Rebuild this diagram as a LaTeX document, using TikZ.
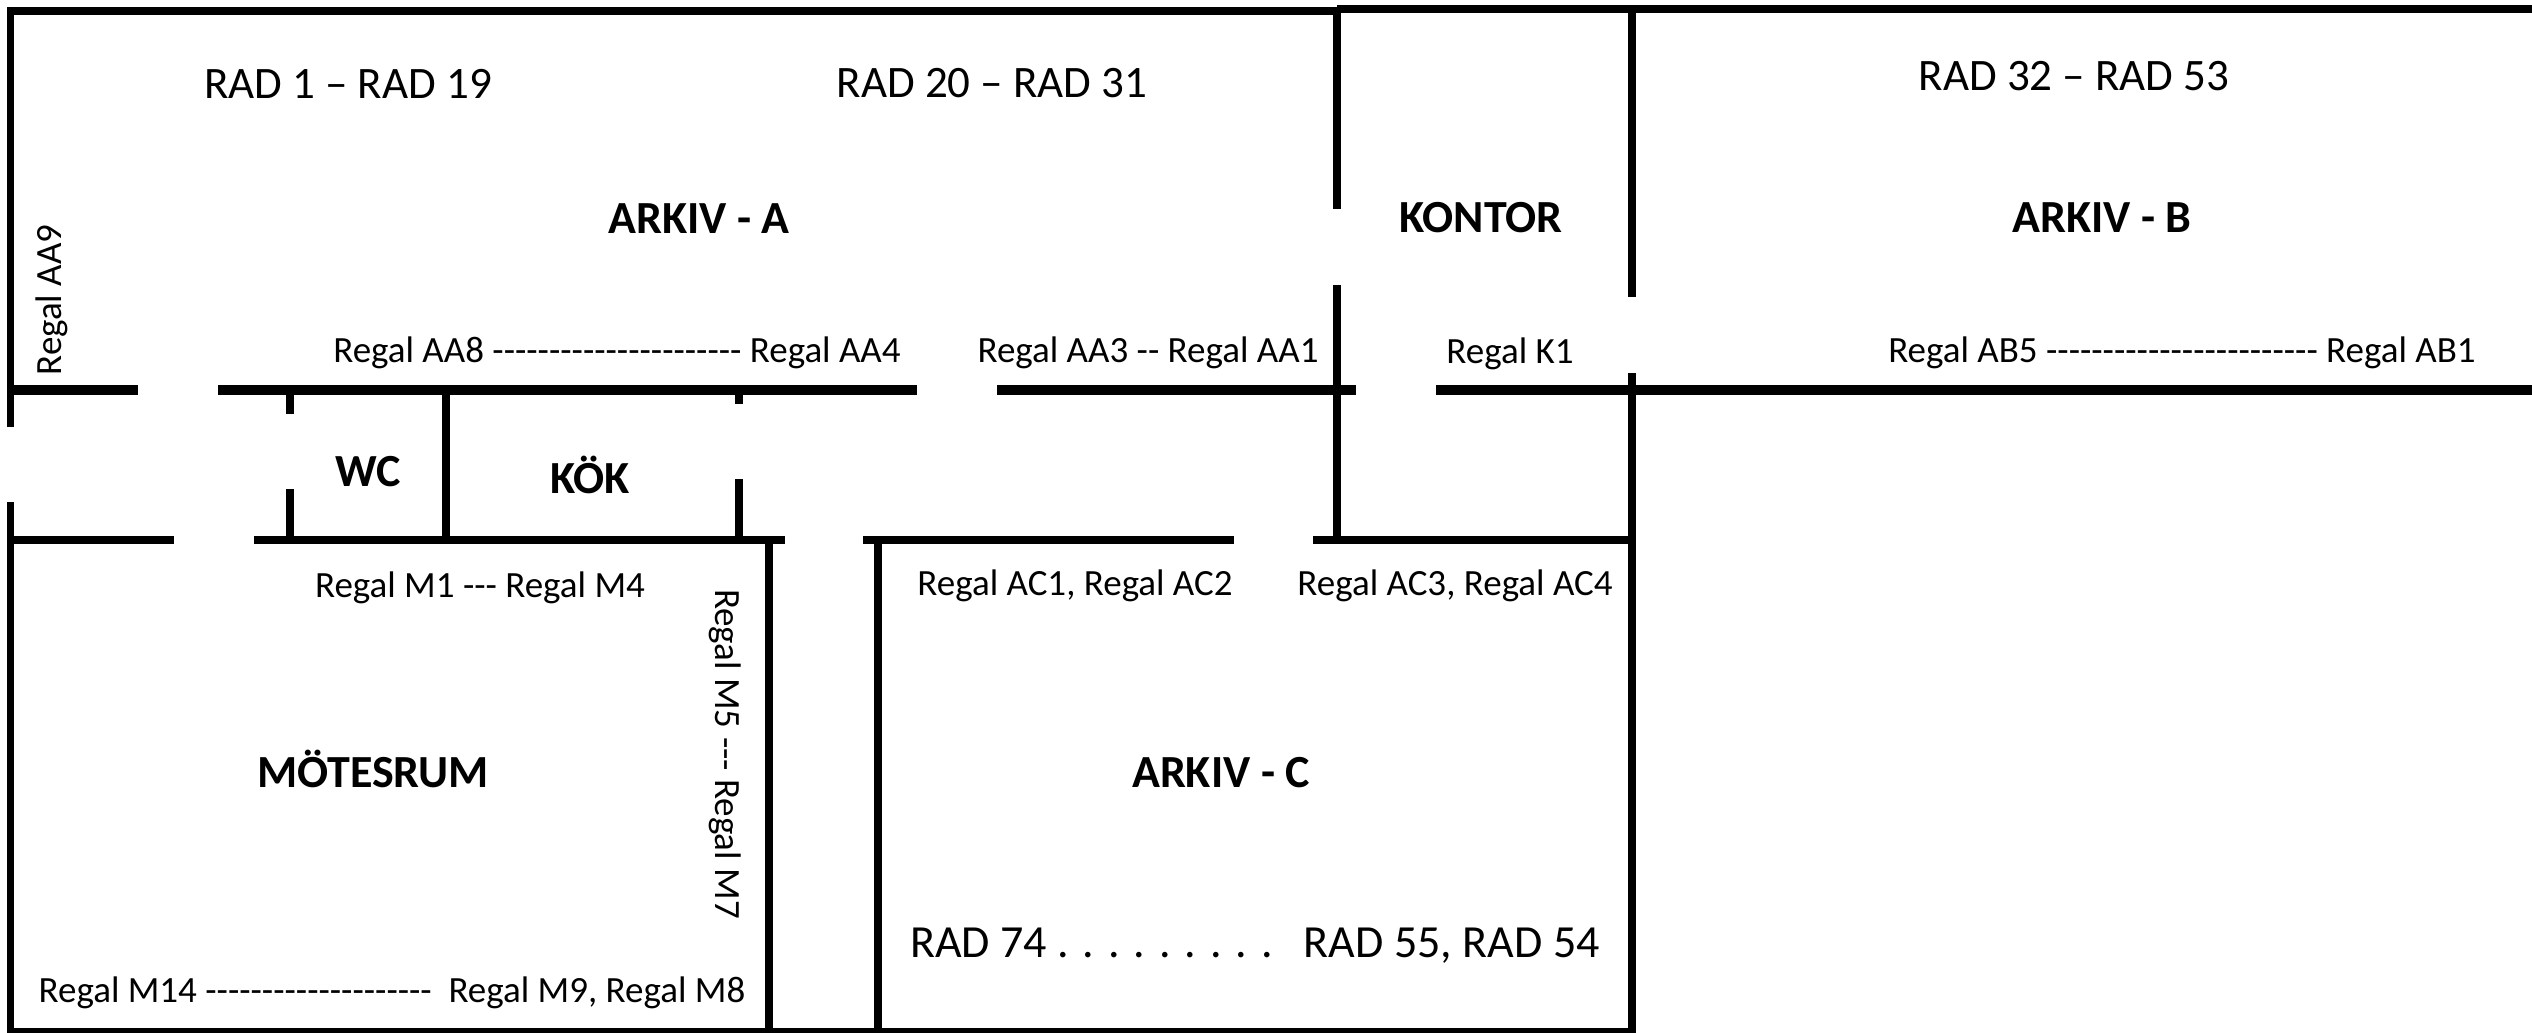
\documentclass[tikz,border=0pt]{standalone}
\usepackage{fontspec}
\setmainfont{Carlito}[Ligatures=TeXOff]
\usepackage{tikz}

\tikzset{
  wall/.style={line width=8pt},
  mainwall/.style={line width=10pt},
  outerwall/.style={line width=7pt},
  rowlabel/.style={anchor=base, inner sep=0pt, font=\fontsize{45}{54}\selectfont},
  roomlabel/.style={anchor=base, inner sep=0pt, font=\fontsize{46}{55}\selectfont\bfseries},
  shelflabel/.style={anchor=base, inner sep=0pt, font=\fontsize{37}{44}\selectfont},
}

\begin{document}
\begin{tikzpicture}[x=1pt, y=-1pt]
  \useasboundingbox (0,0) rectangle (2532,1033);
  % corridor
  \foreach \xa/\xb in {7/138,218/917,997/1356,1436/2532} {
    \draw[mainwall] (\xa,390) -- (\xb,390);
  };
  \foreach \xa/\xb in {7/174,254/785,863/1234,1313/1636} {
    \draw[wall] (\xa,540) -- (\xb,540);
  };
  % rooms
  \foreach \x/\ya/\yb in {290/390/414,290/489/540,446/390/540,739/390/404,739/479/540,
      769/540/1033,878/540/1033,1337/9/209,1337/285/540,1632/9/297,1632/373/1033} {
    \draw[wall] (\x,\ya) -- (\x,\yb);
  };
  % outside
  \draw[outerwall] (10.5,427) -- (10.5,7);
  \draw[outerwall] (10.5,502) -- (10.5,1033);
  \draw[wall] (7,11) -- (1337,11);
  \draw[wall] (1337,9) -- (2532,9);
  \draw[line width=5pt] (7,1030) -- (1636,1030);

  \node[rowlabel] (rad1) at (348,98) {RAD 1 – RAD 19};
  \node[rowlabel] (rad20) at (992,97) {RAD 20 – RAD 31};
  \node[rowlabel] (rad32) at (2074,90) {RAD 32 – RAD 53};
  \node[roomlabel] (arkivA) at (699,233) {ARKIV - A};
  \node[roomlabel] (kontor) at (1481,232) {KONTOR};
  \node[roomlabel] (arkivB) at (2102,232) {ARKIV - B};
  \node[shelflabel, rotate=90] (aa9) at (61,300) {Regal AA9};
  \node[shelflabel] (aa8) at (617,362) {Regal AA8 ---------------------- Regal AA4};
  \node[shelflabel] (aa3) at (1148,362) {Regal AA3 -- Regal AA1};
  \node[shelflabel] (k1) at (1510,363) {Regal K1};
  \node[shelflabel] (ab5) at (2182,362) {Regal AB5 ------------------------ Regal AB1};
  \node[roomlabel] (wc) at (368,486) {WC};
  \node[roomlabel] (kok) at (590,493) {KÖK};
  \node[shelflabel] (m1) at (480,597) {Regal M1 --- Regal M4};
  \node[shelflabel, rotate=-90] (m5) at (715,754) {Regal M5 --- Regal M7};
  \node[shelflabel] (ac1) at (1075,595) {Regal AC1, Regal AC2};
  \node[shelflabel] (ac3) at (1455,595) {Regal AC3, Regal AC4};
  \node[roomlabel] (motesrum) at (373,787) {MÖTESRUM};
  \node[roomlabel] (arkivC) at (1221,787) {ARKIV - C};
  \node[rowlabel, font=\fontsize{46}{55}\selectfont] (rad74) at (1255,957) {RAD 74 . . . . . . . . .~~~RAD 55, RAD 54};
  \node[shelflabel] (m14) at (392,1002) {Regal M14 -------------------- ~Regal M9, Regal M8};
\end{tikzpicture}
\end{document}
